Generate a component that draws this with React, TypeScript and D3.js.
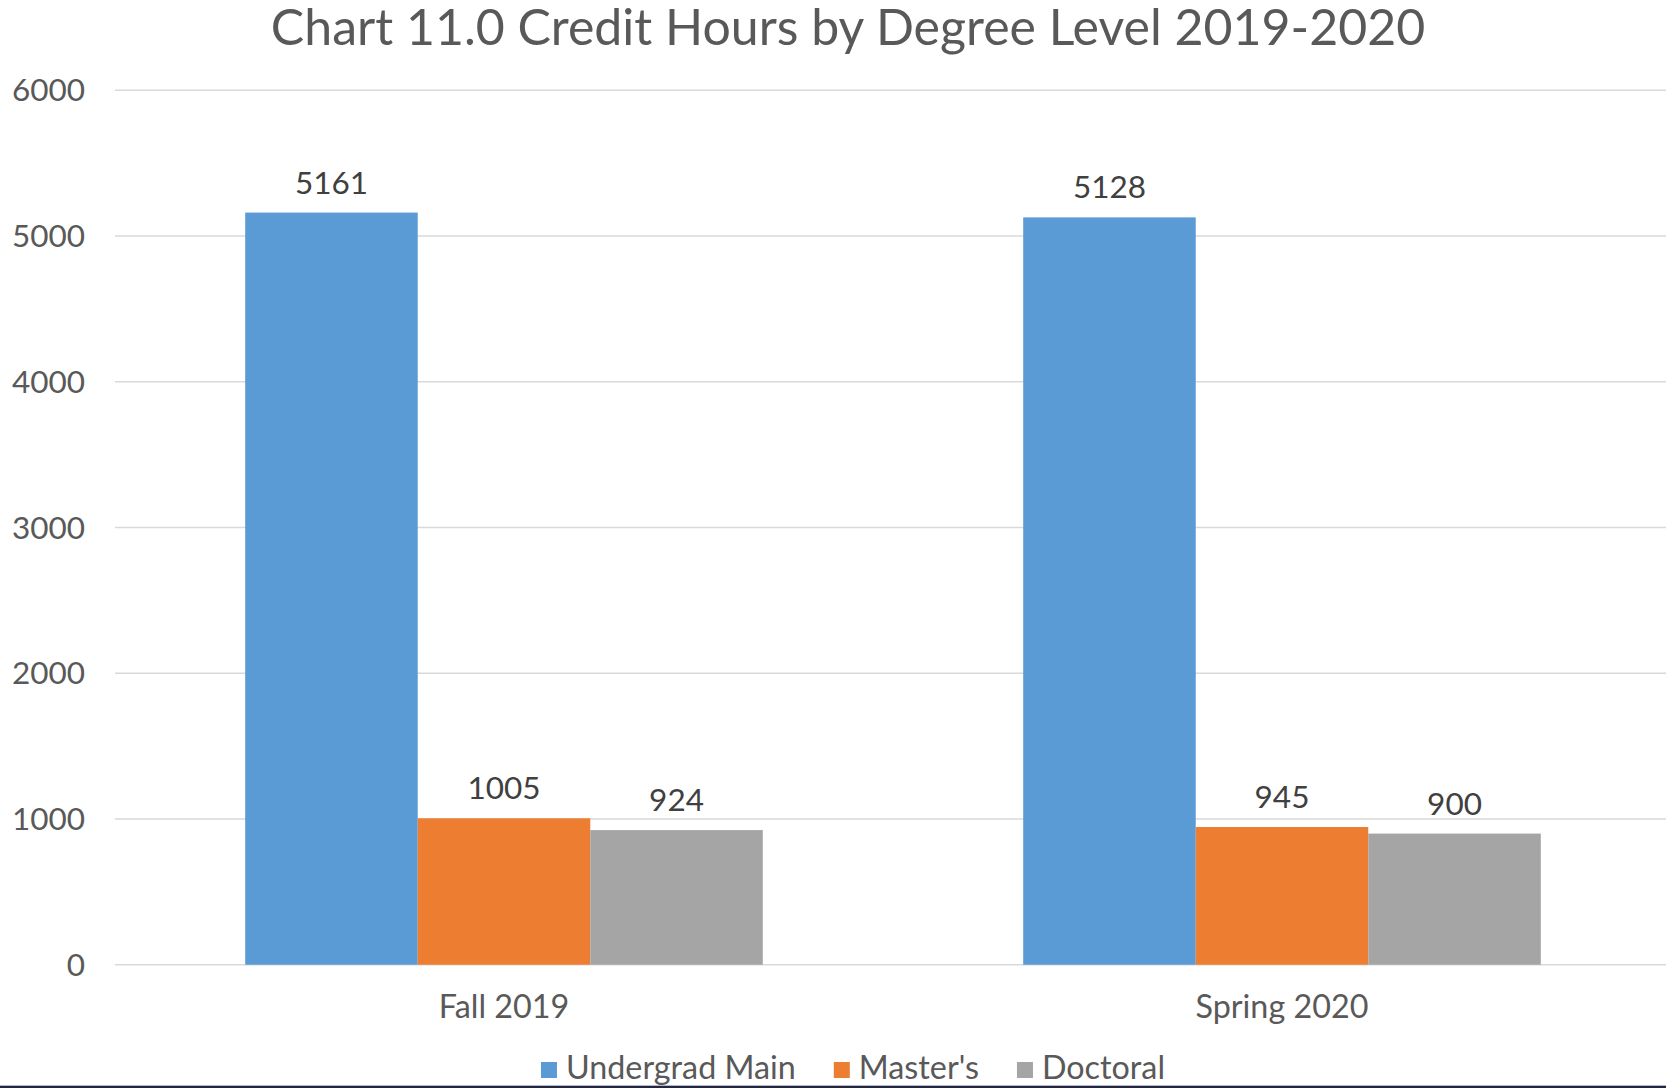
import React, { useRef, useEffect } from 'react';
import * as d3 from 'd3';

const categories = ['Fall 2019', 'Spring 2020'];
const seriesNames = ['Undergrad Main', "Master's", 'Doctoral'];
const undergradMain = [5161, 5128];
const masters = [1005, 945];
const doctoral = [924, 900];
const yTicks = [0, 1000, 2000, 3000, 4000, 5000, 6000];
const colors = ['#5b9bd5', '#ed7d31', '#a5a5a5'];

const width = 1666;
const height = 1088;

const App = () => {
  const svgRef = useRef<SVGSVGElement>(null);

  useEffect(() => {
    const svg = d3.select(svgRef.current);
    svg.selectAll('*').remove();

    const font = 'Lato, "Open Sans", sans-serif';
    const plotLeft = 115;
    const plotTop = 90.3;
    const plotBottom = 964.75;

    const values = [undergradMain, masters, doctoral];

    const x0 = d3.scaleBand<string>()
      .domain(categories)
      .range([plotLeft, 1671])
      .paddingInner(0.3347)
      .paddingOuter(0.3347 / 2);

    const x1 = d3.scaleBand<string>()
      .domain(seriesNames)
      .range([0, x0.bandwidth()]);

    const y = d3.scaleLinear().domain([0, 6000]).range([plotBottom, plotTop]);

    svg.append('rect').attr('width', width).attr('height', height).attr('fill', '#fff');

    // gridlines
    svg.append('g')
      .selectAll('line')
      .data(yTicks)
      .enter()
      .append('line')
      .attr('x1', plotLeft)
      .attr('x2', width)
      .attr('y1', d => y(d))
      .attr('y2', d => y(d))
      .attr('stroke', '#d9d9d9')
      .attr('stroke-width', 1.5);

    // y tick labels
    svg.append('g')
      .selectAll('text')
      .data(yTicks)
      .enter()
      .append('text')
      .attr('x', 85)
      .attr('y', d => y(d))
      .attr('dy', '0.35em')
      .attr('text-anchor', 'end')
      .attr('font-family', font)
      .attr('font-size', 31.5)
      .attr('fill', '#595959')
      .text(d => d);

    // bars
    const groups = svg.append('g')
      .selectAll('g')
      .data(categories)
      .enter()
      .append('g')
      .attr('transform', d => `translate(${x0(d)},0)`);

    groups.selectAll('rect')
      .data((c, i) => seriesNames.map((s, si) => ({ s, si, v: values[si][i] })))
      .enter()
      .append('rect')
      .attr('x', d => x1(d.s)!)
      .attr('width', x1.bandwidth())
      .attr('y', d => y(d.v))
      .attr('height', d => y(0) - y(d.v))
      .attr('fill', d => colors[d.si]);

    groups.selectAll('text')
      .data((c, i) => seriesNames.map((s, si) => ({ s, si, v: values[si][i] })))
      .enter()
      .append('text')
      .attr('x', d => x1(d.s)! + x1.bandwidth() / 2)
      .attr('y', d => y(d.v) - 19)
      .attr('text-anchor', 'middle')
      .attr('font-family', font)
      .attr('font-size', 31.5)
      .attr('fill', '#404040')
      .text(d => d.v);

    // category labels
    svg.append('g')
      .selectAll('text')
      .data(categories)
      .enter()
      .append('text')
      .attr('x', d => x0(d)! + x0.bandwidth() / 2)
      .attr('y', 1018)
      .attr('text-anchor', 'middle')
      .attr('font-family', font)
      .attr('font-size', 32.3)
      .attr('fill', '#595959')
      .text(d => d);

    // title
    svg.append('text')
      .attr('x', 848)
      .attr('y', 45)
      .attr('text-anchor', 'middle')
      .attr('font-family', font)
      .attr('font-size', 50)
      .attr('fill', '#595959')
      .text('Chart 11.0 Credit Hours by Degree Level 2019-2020');

    // legend
    const legend = svg.append('g');
    const items = legend.selectAll('g')
      .data(seriesNames)
      .enter()
      .append('g');
    items.append('rect')
      .attr('y', 1062)
      .attr('width', 16)
      .attr('height', 16)
      .attr('fill', (d, i) => colors[i]);
    items.append('text')
      .attr('x', 25)
      .attr('y', 1079)
      .attr('font-family', font)
      .attr('font-size', 32.3)
      .attr('fill', '#595959')
      .text(d => d);
    let cx = 0;
    const offsets: number[] = [];
    items.each(function () {
      offsets.push(cx);
      const w = (d3.select(this).select('text').node() as SVGTextElement).getComputedTextLength();
      cx += 25 + w + 38;
    });
    const total = cx - 38;
    const start = 853 - total / 2;
    items.attr('transform', (d, i) => `translate(${start + offsets[i]},0)`);

    // bottom border
    svg.append('rect').attr('x', 0).attr('y', 1085).attr('width', width).attr('height', 1).attr('fill', '#b4b8cc');
    svg.append('rect').attr('x', 0).attr('y', 1086).attr('width', width).attr('height', 2).attr('fill', '#22273f');
  }, []);

  return (
    <svg
      ref={svgRef}
      width={width}
      height={height}
      style={{ position: 'absolute', left: 0, top: 0, display: 'block' }}
    />
  );
};

export default App;
